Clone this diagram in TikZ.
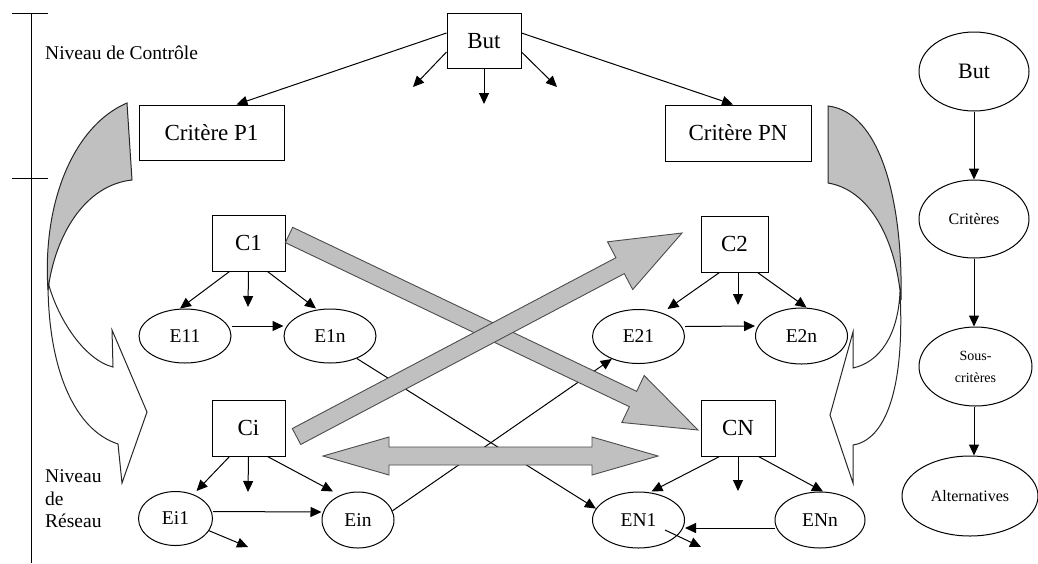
\documentclass[tikz,border=0pt]{standalone}
\usepackage{fontspec}
\setmainfont{Liberation Serif}
\usetikzlibrary{arrows.meta,shapes.geometric,calc}
\definecolor{fillgray}{RGB}{192,192,192}

% broad straight arrow: #1 tail, #2 tip, #3 shaft half width, #4 head half width, #5 head length
\newcommand\fatarrow[5]{%
  \coordinate (fahead) at ($(#2)!#5!(#1)$);
  \filldraw[bigarrow]
    ($(#1)!#3!90:(#2)$) -- ($(fahead)!#3!90:(#2)$) -- ($(fahead)!#4!90:(#2)$) -- (#2)
    -- ($(fahead)!#4!-90:(#2)$) -- ($(fahead)!#3!-90:(#2)$) -- ($(#1)!#3!-90:(#2)$) -- cycle;
}

\begin{document}
\begin{tikzpicture}[x=1pt,y=-1pt,
  box/.style={draw, rectangle, line width=1pt, inner sep=0pt, font=\fontsize{23}{27}\selectfont},
  ell/.style={draw, ellipse, line width=1pt, inner sep=0pt, font=\fontsize{19.5}{23}\selectfont},
  link/.style={line width=1pt, -{Triangle[length=11pt,width=10pt]}},
  bigarrow/.style={fill=fillgray, draw=black!70, line width=0.9pt, line join=miter},
  curvegray/.style={fill=fillgray, draw=black!85, line width=1pt},
  curvewhite/.style={fill=white, draw=black!85, line width=1pt},
  lvl/.style={font=\fontsize{19.5}{22.5}\selectfont, inner sep=0pt, align=left}]
\useasboundingbox (0,0) rectangle (1038,563);

% level scale on the left
\draw[line width=1pt] (31,13) -- (31,563);
\draw[line width=1pt] (12,13) -- (48,13);
\draw[line width=1pt] (12,178) -- (48,178);
\node[lvl, anchor=west] (lvlA) at (45,53) {Niveau de Contrôle};
\node[lvl, anchor=west] (lvlB) at (45,499) {Niveau\\de\\Réseau};

% control level
\node[box, minimum width=74, minimum height=55] (goal) at (484,41) {But};
\node[box, minimum width=145, minimum height=55] (critP1) at (211.5,132.5) {Critère P1};
\node[box, minimum width=146, minimum height=56] (critPN) at (738,133) {Critère PN};

\coordinate (g1) at (413,87);
\coordinate (g2) at (484,104);
\coordinate (g3) at (557,87);
\draw[link] ([yshift=8]goal.west) -- ([xshift=25]critP1.north);
\draw[link] ([yshift=8]goal.east) -- ([xshift=-5]critPN.north);
\draw[link] ([yshift=-11]goal.west) -- (g1);
\draw[link] (goal.south) -- (g2);
\draw[link] ([yshift=-11]goal.east) -- (g3);

% network level: clusters
\node[box, minimum width=73, minimum height=56] (cA) at (248.5,243) {C1};
\node[box, minimum width=73, minimum height=56] (cI) at (248.5,428) {Ci};
\node[box, minimum width=67, minimum height=56] (cB) at (734.5,244) {C2};
\node[box, minimum width=74, minimum height=56] (cN) at (738,428) {CN};

% network level: elements
\node[ell, minimum width=92, minimum height=54] (e11) at (185,336) {E11};
\node[ell, minimum width=92, minimum height=54] (e1n) at (330,336) {E1n};
\node[ell, minimum width=74, minimum height=54] (ei1) at (175.5,518.5) {Ei1};
\node[ell, minimum width=72, minimum height=56] (ein) at (358,520) {Ein};
\node[ell, minimum width=92, minimum height=54] (e21) at (638.5,336.5) {E21};
\node[ell, minimum width=92, minimum height=56] (e2n) at (801.5,336) {E2n};
\node[ell, minimum width=92, minimum height=56] (en1) at (638.5,520) {EN1};
\node[ell, minimum width=90, minimum height=56] (enn) at (820,520) {ENn};

\coordinate (c1m) at (248,307);
\coordinate (cim) at (248,492);
\coordinate (c2m) at (738,305);
\coordinate (cnm) at (738,491);
\coordinate (ei1o) at (248,547);
\coordinate (en1s) at (665,530);
\coordinate (en1o) at (701,547);

\draw[link] ([xshift=18]cA.south west) -- ([xshift=-5]e11.north);
\draw[link] (cA.south) -- (c1m);
\draw[link] ([xshift=-18]cA.south east) -- ([xshift=-14]e1n.north);
\draw[link] ([yshift=10]e11.east) -- ([yshift=10]e1n.west);

\draw[link] ([xshift=18]cI.south west) -- ([xshift=21]ei1.north);
\draw[link] (cI.south) -- (cim);
\draw[link] ([xshift=-18]cI.south east) -- ([xshift=-25]ein.north);
\draw[link] ([yshift=7]ei1.east) -- ([yshift=8]ein.west);
\draw[link] (ei1.-20) -- (ei1o);

\draw[link] ([xshift=19]cB.south west) -- ([xshift=29]e21.north);
\draw[link] ([xshift=3.5]cB.south) -- (c2m);
\draw[link] ([xshift=-11]cB.south east) -- ([xshift=5]e2n.north);
\draw[link] ([yshift=10]e21.east) -- ([yshift=10]e2n.west);

\draw[link] ([xshift=19]cN.south west) -- ([xshift=13]en1.north);
\draw[link] (cN.south) -- (cnm);
\draw[link] ([xshift=-17]cN.south east) -- ([xshift=3]enn.north);
\draw[link] ([yshift=-8]enn.west) -- ([yshift=-8]en1.east);
\draw[link] (en1s) -- (en1o);

% influences between elements of different clusters
\draw[link] (e1n.-40) -- (en1.165);
\draw[link] (ein.15) -- (e21.220);

% dependencies between clusters
\coordinate (aAt) at (289,235);
\coordinate (aAh) at (698,430);
\coordinate (aIt) at (296.5,436.5);
\coordinate (aIh) at (682,233);
\fatarrow{aAt}{aAh}{8.5pt}{26pt}{72pt}
\fatarrow{aIt}{aIh}{9pt}{27pt}{70pt}
\filldraw[bigarrow] (323,456) -- (389,437) -- (389,447) -- (592,447) -- (592,437) -- (658,456)
  -- (592,475) -- (592,465) -- (389,465) -- (389,475) -- cycle;

% curved arrows from the control level down to the network level
\filldraw[curvewhite] (48,282) .. controls (58,320) and (85,360) .. (113,367) -- (112,330) -- (147,412)
  -- (122,483) -- (118,444) .. controls (75,430) and (48,370) .. (48,282) -- cycle;
\filldraw[curvegray] (127,103) .. controls (75,125) and (42,200) .. (48,290)
  .. controls (55,235) and (85,185) .. (132,180) -- cycle;

\filldraw[curvewhite] (900,292) .. controls (898,335) and (880,362) .. (853,368) -- (853,332) -- (830,415)
  -- (853,483) -- (853,445) .. controls (885,440) and (905,390) .. (900,292) -- cycle;
\filldraw[curvegray] (828,106) .. controls (880,112) and (903,200) .. (901,300)
  .. controls (896,240) and (870,190) .. (828,183) -- cycle;

% hierarchy on the right
\node[ell, minimum width=110, minimum height=79, font=\fontsize{22}{26}\selectfont] (rBut) at (974,71.5) {But};
\node[ell, minimum width=110, minimum height=78, font=\fontsize{16}{19}\selectfont] (rCrit) at (974,219) {Critères};
\node[ell, minimum width=113, minimum height=79, align=center, font=\fontsize{14}{22}\selectfont] (rSous) at (975.5,366.5) {Sous-\\critères};
\node[ell, minimum width=136, minimum height=80, font=\fontsize{16}{19}\selectfont] (rAlt) at (970,496) {Alternatives};

\draw[link] (rBut.south) -- (rCrit.north);
\draw[link] (rCrit.south) -- (rCrit.south |- rSous.north);
\draw[link] (rCrit.south |- rSous.south) -- (rCrit.south |- rAlt.north);
\end{tikzpicture}
\end{document}
